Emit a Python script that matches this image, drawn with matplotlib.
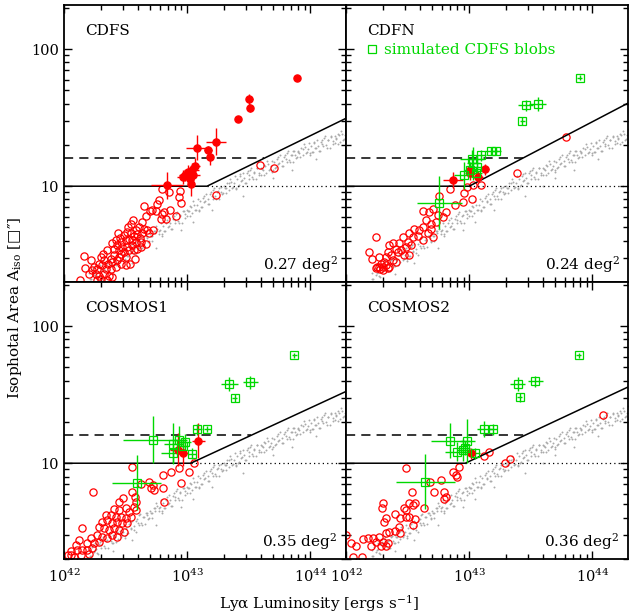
import numpy as np
import matplotlib
matplotlib.use("Agg")
import matplotlib.pyplot as plt
from matplotlib.lines import Line2D

plt.rcParams['font.family'] = ['DejaVu Serif', 'DejaVu Sans']
plt.rcParams['mathtext.fontset'] = 'dejavuserif'

RED = '#ff0000'
GREEN = '#00d800'
GRAY = '#aaaaaa'

panel_names = ['CDFS', 'CDFN', 'COSMOS1', 'COSMOS2']
panel_areas = ['0.27', '0.24', '0.35', '0.36']

# selection lines: kink luminosity and area of the diagonal at L = 2e44
kink_L = [1.45e43, 1.0e43, 1.07e43, 0.93e43]
end_A = [31.3, 40.4, 33.4, 36.0]
A_min = 10.0
A_dash = 16.0

# gray points (simulated point sources), log L and log A
gray_logL = [
    42.207, 42.221, 42.233, 42.249, 42.262, 42.278, 42.293,
    42.304, 42.318, 42.337, 42.346, 42.368, 42.381, 42.397,
    42.407, 42.421, 42.433, 42.449, 42.462, 42.478, 42.493,
    42.504, 42.518, 42.537, 42.546, 42.568, 42.581, 42.597,
    42.607, 42.621, 42.633, 42.649, 42.662, 42.678, 42.693,
    42.704, 42.718, 42.737, 42.746, 42.768, 42.781, 42.797,
    42.807, 42.821, 42.833, 42.849, 42.862, 42.878, 42.893,
    42.904, 42.918, 42.937, 42.946, 42.968, 42.981, 42.997,
    43.007, 43.021, 43.033, 43.049, 43.062, 43.078, 43.093,
    43.104, 43.118, 43.137, 43.146, 43.168, 43.181, 43.197,
    43.207, 43.221, 43.233, 43.249, 43.262, 43.278, 43.293,
    43.304, 43.318, 43.337, 43.346, 43.368, 43.381, 43.397,
    43.407, 43.421, 43.433, 43.449, 43.462, 43.478, 43.493,
    43.504, 43.518, 43.537, 43.546, 43.568, 43.581, 43.597,
    43.607, 43.621, 43.633, 43.649, 43.662, 43.678, 43.693,
    43.704, 43.718, 43.737, 43.746, 43.768, 43.781, 43.797,
    43.807, 43.821, 43.833, 43.849, 43.862, 43.878, 43.893,
    43.904, 43.918, 43.937, 43.946, 43.968, 43.981, 43.997,
    44.007, 44.021, 44.033, 44.049, 44.062, 44.078, 44.093,
    44.104, 44.118, 44.137, 44.146, 44.168, 44.181, 44.197,
    44.207, 44.221, 44.233, 44.249, 44.262, 44.278, 44.293,
    42.212, 42.227, 42.241, 42.256, 42.271, 42.286, 42.299,
    42.312, 42.327, 42.341, 42.356, 42.371, 42.386, 42.399,
    42.412, 42.427, 42.441, 42.456, 42.471, 42.486, 42.499,
    42.512, 42.527, 42.541, 42.556, 42.571, 42.586, 42.599,
    42.612, 42.627, 42.641, 42.656, 42.671, 42.686, 42.699,
    42.712, 42.727, 42.741, 42.756, 42.771, 42.786, 42.799,
    42.812, 42.827, 42.841, 42.856, 42.871, 42.886, 42.899,
    42.912, 42.927, 42.941, 42.956, 42.971, 42.986, 42.999,
    43.012, 43.027, 43.041, 43.056, 43.071, 43.086, 43.099,
    43.112, 43.127, 43.141, 43.156, 43.171, 43.186, 43.199,
    43.212, 43.227, 43.241, 43.256, 43.271, 43.286, 43.299,
    43.312, 43.327, 43.341, 43.356, 43.371, 43.386, 43.399,
    43.412, 43.427, 43.441, 43.456, 43.471, 43.486, 43.499,
    43.512, 43.527, 43.541, 43.556, 43.571, 43.586, 43.599,
    43.612, 43.627, 43.641, 43.656, 43.671, 43.686, 43.699,
    43.712, 43.727, 43.741, 43.756, 43.771, 43.786, 43.799,
    43.812, 43.827, 43.841, 43.856, 43.871, 43.886, 43.899,
    43.912, 43.927, 43.941, 43.956, 43.971, 43.986, 43.999,
    44.012, 44.027, 44.041, 44.056, 44.071, 44.086, 44.099,
    44.112, 44.127, 44.141, 44.156, 44.171, 44.186, 44.199,
    44.212, 44.227, 44.241, 44.256, 44.271, 44.286, 44.299,
    42.75, 42.95, 43.20, 43.45, 43.60, 43.85, 42.55, 43.05, 43.70, 44.05, 42.40,
]
gray_logA = [
    0.365, 0.325, 0.405, 0.365, 0.375, 0.335, 0.425,
    0.380, 0.460, 0.380, 0.440, 0.460, 0.430, 0.420,
    0.465, 0.425, 0.495, 0.535, 0.465, 0.495, 0.455,
    0.530, 0.490, 0.570, 0.530, 0.540, 0.500, 0.590,
    0.550, 0.630, 0.550, 0.610, 0.640, 0.620, 0.600,
    0.640, 0.600, 0.670, 0.710, 0.670, 0.680, 0.640,
    0.710, 0.670, 0.750, 0.710, 0.730, 0.690, 0.780,
    0.730, 0.810, 0.730, 0.790, 0.820, 0.800, 0.780,
    0.820, 0.780, 0.850, 0.890, 0.830, 0.860, 0.820,
    0.890, 0.850, 0.930, 0.890, 0.910, 0.870, 0.960,
    0.910, 0.990, 0.910, 0.965, 0.990, 0.960, 0.950,
    0.990, 0.950, 1.020, 1.055, 0.990, 1.020, 0.980,
    1.050, 1.010, 1.090, 1.045, 1.060, 1.020, 1.110,
    1.055, 1.135, 1.050, 1.105, 1.130, 1.100, 1.085,
    1.125, 1.085, 1.150, 1.185, 1.120, 1.150, 1.105,
    1.180, 1.140, 1.215, 1.170, 1.185, 1.145, 1.230,
    1.180, 1.260, 1.175, 1.230, 1.255, 1.225, 1.210,
    1.250, 1.210, 1.275, 1.310, 1.245, 1.275, 1.230,
    1.295, 1.250, 1.325, 1.280, 1.295, 1.255, 1.340,
    1.290, 1.365, 1.280, 1.335, 1.360, 1.330, 1.315,
    1.350, 1.305, 1.370, 1.405, 1.340, 1.370, 1.325,
    0.325, 0.390, 0.355, 0.415, 0.345, 0.410, 0.400,
    0.450, 0.395, 0.430, 0.380, 0.470, 0.415, 0.475,
    0.465, 0.500, 0.445, 0.505, 0.475, 0.550, 0.470,
    0.490, 0.555, 0.520, 0.580, 0.510, 0.575, 0.565,
    0.620, 0.565, 0.605, 0.555, 0.640, 0.590, 0.650,
    0.640, 0.675, 0.655, 0.685, 0.650, 0.730, 0.650,
    0.670, 0.735, 0.705, 0.765, 0.690, 0.760, 0.750,
    0.800, 0.745, 0.785, 0.735, 0.820, 0.770, 0.830,
    0.820, 0.855, 0.805, 0.865, 0.830, 0.910, 0.830,
    0.850, 0.915, 0.885, 0.945, 0.870, 0.940, 0.930,
    0.975, 0.925, 0.960, 0.910, 0.995, 0.945, 1.000,
    0.985, 1.025, 0.970, 1.030, 0.995, 1.075, 0.990,
    1.005, 1.075, 1.040, 1.100, 1.025, 1.095, 1.080,
    1.120, 1.065, 1.100, 1.050, 1.135, 1.080, 1.135,
    1.120, 1.155, 1.100, 1.160, 1.125, 1.185, 1.115,
    1.135, 1.200, 1.165, 1.225, 1.150, 1.215, 1.200,
    1.245, 1.190, 1.225, 1.175, 1.260, 1.205, 1.260,
    1.245, 1.280, 1.225, 1.285, 1.250, 1.315, 1.240,
    1.250, 1.315, 1.280, 1.335, 1.260, 1.325, 1.310,
    1.355, 1.300, 1.335, 1.280, 1.365, 1.310, 1.365,
    1.345, 1.380, 1.325, 1.380, 1.345, 1.415, 1.335,
    0.550, 0.680, 0.830, 0.930, 1.000, 1.120, 0.440, 0.740, 1.060, 1.200, 0.360,
]

# ---- CDFS ----
cdfs_open_logL = [
    42.794, 42.854, 42.943, 42.935, 42.949, 42.772, 42.759, 42.718, 42.699, 42.745,
    42.813, 42.862, 42.799, 42.786, 42.827, 42.908, 42.650, 42.664, 42.631, 42.610,
    42.564, 42.542, 42.520, 42.583, 42.650, 42.678, 42.726, 42.691, 42.637, 42.596,
    42.569, 42.542, 42.509, 42.488, 42.455, 42.439, 42.420, 42.466, 42.501, 42.528,
    42.556, 42.583, 42.618, 42.623, 42.556, 42.515, 42.474, 42.434, 42.393, 42.407,
    42.447, 42.488, 42.528, 42.501, 42.447, 42.407, 42.379, 42.347, 42.320, 42.298,
    42.325, 42.360, 42.393, 42.434, 42.466, 42.501, 42.420, 42.379, 42.339, 42.312,
    42.285, 42.271, 42.244, 42.230, 42.257, 42.285, 42.325, 42.366, 42.393, 42.298,
    42.271, 42.163, 42.217, 42.168, 42.130, 42.203, 42.352, 42.461, 42.596, 42.629,
    42.664, 42.569, 42.537, 42.577, 43.590, 43.707, 43.236,
]
cdfs_open_logA = [
    0.976, 0.959, 0.966, 0.922, 0.878, 0.903, 0.873, 0.825, 0.820, 0.820,
    0.810, 0.825, 0.800, 0.764, 0.764, 0.781, 0.854, 0.783, 0.742, 0.703,
    0.752, 0.723, 0.703, 0.679, 0.691, 0.679, 0.684, 0.655, 0.655, 0.650,
    0.635, 0.659, 0.667, 0.642, 0.625, 0.655, 0.611, 0.594, 0.606, 0.618,
    0.606, 0.594, 0.625, 0.594, 0.569, 0.557, 0.557, 0.569, 0.582, 0.545,
    0.533, 0.521, 0.533, 0.484, 0.484, 0.496, 0.472, 0.533, 0.509, 0.484,
    0.460, 0.436, 0.448, 0.460, 0.436, 0.423, 0.411, 0.399, 0.399, 0.423,
    0.436, 0.399, 0.411, 0.387, 0.363, 0.343, 0.358, 0.343, 0.338, 0.326,
    0.314, 0.489, 0.465, 0.406, 0.319, 0.363, 0.314, 0.509, 0.545, 0.557,
    0.577, 0.533, 0.436, 0.472, 1.153, 1.134, 0.939,
]
cdfs_blob_logL = [43.892, 43.504, 43.512, 43.417, 43.236, 43.084, 43.168, 43.187, 42.984,
                  43.011, 43.038, 43.065, 43.051, 42.970, 43.024, 43.032, 42.840]
cdfs_blob_logA = [1.786, 1.633, 1.572, 1.487, 1.326, 1.282, 1.263, 1.214, 1.080,
                  1.105, 1.117, 1.146, 1.080, 1.068, 1.056, 1.015, 1.007]
cdfs_blob_xerr = [0.01, 0.03, 0.01, 0.02, 0.08, 0.09, 0.03, 0.02, 0.05,
                  0.04, 0.06, 0.04, 0.05, 0.05, 0.03, 0.02, 0.13]
cdfs_blob_yerr = [0.01, 0.04, 0.03, 0.02, 0.10, 0.09, 0.03, 0.06, 0.04,
                  0.05, 0.05, 0.06, 0.04, 0.05, 0.04, 0.09, 0.10]

# ---- CDFN ----
cdfn_open_logL = [
    42.753, 42.846, 42.881, 42.949, 42.813, 42.786, 42.745, 42.705, 42.672, 42.629,
    42.732, 42.691, 42.650, 42.623, 42.591, 42.556, 42.583, 42.623, 42.664, 42.691,
    42.705, 42.542, 42.515, 42.501, 42.528, 42.488, 42.461, 42.434, 42.407, 42.379,
    42.352, 42.339, 42.366, 42.420, 42.447, 42.474, 42.509, 42.379, 42.407, 42.325,
    42.312, 42.285, 42.271, 42.266, 42.298, 42.325, 42.352, 42.190, 42.211, 42.244,
    42.249, 42.240, 42.300, 42.340, 42.280,
    43.789, 43.388, 42.980, 43.030, 43.100, 43.020, 42.959,
]
cdfn_open_logA = [
    0.927, 0.976, 0.861, 0.886, 0.813, 0.776, 0.788, 0.837, 0.813, 0.820,
    0.740, 0.727, 0.752, 0.703, 0.679, 0.691, 0.635, 0.606, 0.655, 0.691,
    0.630, 0.630, 0.655, 0.594, 0.569, 0.557, 0.630, 0.582, 0.545, 0.582,
    0.569, 0.521, 0.496, 0.521, 0.533, 0.496, 0.496, 0.460, 0.448, 0.484,
    0.448, 0.436, 0.484, 0.411, 0.411, 0.423, 0.411, 0.521, 0.472, 0.630,
    0.411, 0.400, 0.385, 0.400, 0.395,
    1.360, 1.093, 0.995, 1.007, 1.007, 0.905, 0.951,
]
cdfn_blob_logL = [42.867, 43.003, 43.008, 43.070, 43.125]
cdfn_blob_logA = [1.044, 1.117, 1.097, 1.068, 1.122]
cdfn_blob_xerr = [0.08, 0.03, 0.04, 0.04, 0.04]
cdfn_blob_yerr = [0.06, 0.05, 0.05, 0.04, 0.04]
cdfn_sim_logL = [43.897, 43.459, 43.555, 43.431, 43.220, 43.180, 43.095, 43.022, 43.035,
                 43.062, 43.008, 42.954, 43.057, 42.759]
cdfn_sim_logA = [1.793, 1.591, 1.599, 1.477, 1.258, 1.258, 1.226, 1.202, 1.166,
                 1.141, 1.117, 1.080, 1.093, 0.881]
cdfn_sim_xerr = [0.02, 0.06, 0.07, 0.02, 0.04, 0.05, 0.04, 0.10, 0.05, 0.06, 0.05, 0.08, 0.05, 0.18]
cdfn_sim_yerr = [0.02, 0.04, 0.05, 0.03, 0.03, 0.03, 0.04, 0.06, 0.12, 0.08, 0.06, 0.10, 0.05, 0.19]

# ---- COSMOS1 ----
cos1_open_logL = [
    42.556, 42.808, 42.867, 43.016, 43.057, 42.935, 42.949, 42.691, 42.726, 42.710,
    42.732, 42.629, 42.556, 42.238, 42.808, 42.813, 42.575, 42.583, 42.569, 42.583,
    42.482, 42.447, 42.407, 42.447, 42.501, 42.528,
    42.339, 42.379, 42.420, 42.461, 42.501, 42.542, 42.352, 42.312, 42.393, 42.434,
    42.474, 42.515, 42.285, 42.325, 42.366, 42.407, 42.447, 42.488, 42.271, 42.312,
    42.352, 42.393, 42.434, 42.149, 42.217, 42.190, 42.244, 42.285, 42.122, 42.095,
    42.108, 42.149, 42.190, 42.230, 42.054, 42.136, 42.203, 42.081, 42.030, 42.060,
]
cos1_open_logA = [
    0.976, 0.915, 0.939, 0.939, 1.000, 0.963, 0.859, 0.866, 0.841, 0.817,
    0.805, 0.849, 0.793, 0.793, 0.817, 0.720, 0.756, 0.720, 0.683, 0.659,
    0.744, 0.720, 0.663, 0.659, 0.671, 0.646,
    0.622, 0.622, 0.610, 0.610, 0.598, 0.610, 0.585, 0.573, 0.561, 0.573,
    0.561, 0.561, 0.537, 0.524, 0.512, 0.524, 0.512, 0.500, 0.476, 0.463,
    0.451, 0.476, 0.463, 0.524, 0.451, 0.415, 0.415, 0.427, 0.439, 0.402,
    0.366, 0.366, 0.366, 0.378, 0.329, 0.329, 0.337, 0.317, 0.330, 0.360,
]
cos1_blob_logL = [42.924, 42.965, 43.092]
cos1_blob_logA = [1.097, 1.078, 1.165]
cos1_blob_xerr = [0.06, 0.04, 0.05]
cos1_blob_yerr = [0.12, 0.10, 0.13]
cos1_sim_logL = [43.870, 43.344, 43.512, 43.385, 43.165, 43.084, 42.721, 42.889, 42.937,
                 42.984, 42.884, 43.038, 42.965, 42.591]
cos1_sim_logA = [1.786, 1.580, 1.590, 1.476, 1.249, 1.249, 1.171, 1.141, 1.171,
                 1.154, 1.078, 1.068, 1.127, 0.858]
cos1_sim_xerr = [0.02, 0.07, 0.06, 0.02, 0.03, 0.04, 0.24, 0.08, 0.06, 0.05, 0.10, 0.03, 0.04, 0.20]
cos1_sim_yerr = [0.02, 0.05, 0.05, 0.03, 0.02, 0.04, 0.17, 0.15, 0.10, 0.06, 0.08, 0.04, 0.05, 0.20]

# ---- COSMOS2 ----
cos2_open_logL = [
    42.488, 42.537, 42.678, 42.772, 42.718, 42.799, 42.808, 42.799, 42.894, 42.902,
    42.921, 42.867, 42.304, 42.293, 42.515, 42.474, 42.542, 42.561, 42.488, 42.637,
    42.401, 42.439, 42.488, 42.509, 42.564, 42.325, 42.312, 42.542, 42.434, 42.352,
    42.325, 42.401, 42.439, 42.271, 42.222, 42.176, 42.136, 42.244, 42.298, 42.339,
    42.203, 42.285, 42.325, 42.081, 42.041, 42.000, 42.054, 42.130,
    44.087, 43.333, 43.293, 43.157, 43.122,
]
cos2_open_logA = [
    0.963, 0.793, 0.866, 0.878, 0.793, 0.793, 0.756, 0.737, 0.915, 0.902,
    0.971, 0.939, 0.712, 0.671, 0.707, 0.671, 0.695, 0.707, 0.659, 0.671,
    0.629, 0.598, 0.605, 0.610, 0.590, 0.598, 0.573, 0.549, 0.537, 0.500,
    0.488, 0.507, 0.488, 0.463, 0.451, 0.451, 0.444, 0.427, 0.427, 0.415,
    0.395, 0.395, 0.395, 0.395, 0.420, 0.476, 0.317, 0.317,
    1.354, 1.029, 1.000, 1.085, 1.053,
]
cos2_blob_logL = [43.016]
cos2_blob_logA = [1.073]
cos2_blob_xerr = [0.03]
cos2_blob_yerr = [0.04]
cos2_sim_logL = [43.889, 43.393, 43.537, 43.409, 43.192, 43.124, 42.846, 42.986, 42.900,
                 42.949, 42.967, 43.049, 42.642]
cos2_sim_logA = [1.786, 1.580, 1.597, 1.480, 1.249, 1.249, 1.165, 1.165, 1.085,
                 1.097, 1.110, 1.073, 0.865]
cos2_sim_xerr = [0.02, 0.06, 0.06, 0.02, 0.03, 0.06, 0.16, 0.06, 0.10, 0.05, 0.04, 0.04, 0.24]
cos2_sim_yerr = [0.02, 0.05, 0.04, 0.03, 0.04, 0.06, 0.13, 0.16, 0.07, 0.08, 0.05, 0.04, 0.20]

open_sets = [(cdfs_open_logL, cdfs_open_logA), (cdfn_open_logL, cdfn_open_logA),
             (cos1_open_logL, cos1_open_logA), (cos2_open_logL, cos2_open_logA)]
blob_sets = [(cdfs_blob_logL, cdfs_blob_logA, cdfs_blob_xerr, cdfs_blob_yerr),
             (cdfn_blob_logL, cdfn_blob_logA, cdfn_blob_xerr, cdfn_blob_yerr),
             (cos1_blob_logL, cos1_blob_logA, cos1_blob_xerr, cos1_blob_yerr),
             (cos2_blob_logL, cos2_blob_logA, cos2_blob_xerr, cos2_blob_yerr)]
sim_sets = [None,
            (cdfn_sim_logL, cdfn_sim_logA, cdfn_sim_xerr, cdfn_sim_yerr),
            (cos1_sim_logL, cos1_sim_logA, cos1_sim_xerr, cos1_sim_yerr),
            (cos2_sim_logL, cos2_sim_logA, cos2_sim_xerr, cos2_sim_yerr)]

XMIN, XMAX = 1e42, 1.95e44
YMIN, YMAX = 2.0, 210.0


def log_errors(logv, err):
    v = 10 ** np.array(logv)
    e = np.array(err)
    return v, np.vstack([v - v / 10 ** e, v * 10 ** e - v])


def errpoints(ax, data, color, marker, filled):
    x, xe = log_errors(data[0], data[2])
    y, ye = log_errors(data[1], data[3])
    ax.errorbar(x, y, xerr=xe, yerr=ye, fmt='none', ecolor=color, elinewidth=1.0,
                capsize=0, zorder=4)
    ax.plot(x, y, marker, ms=5.2, mec=color, mew=0.9,
            mfc=color if filled else 'none', ls='none', zorder=5)


fig = plt.figure(figsize=(6.29, 6.16), dpi=100)
W, H = 0.4484, 0.4497
positions = [(0.1017, 0.5422), (0.5501, 0.5422), (0.1017, 0.0925), (0.5501, 0.0925)]

for i, (x0, y0) in enumerate(positions):
    ax = fig.add_axes([x0, y0, W, H])
    ax.set_xscale('log')
    ax.set_yscale('log')
    ax.set_xlim(XMIN, XMAX)
    ax.set_ylim(YMIN, YMAX)

    ax.plot(10 ** np.array(gray_logL), 10 ** np.array(gray_logA), 'o', ms=1.4,
            color=GRAY, mec='none', zorder=1)

    # selection lines
    kL = kink_L[i]
    slope = np.log10(end_A[i] / A_min) / np.log10(XMAX / kL)
    L_dash = kL * (A_dash / A_min) ** (1 / slope)
    ax.plot([XMIN, kL, XMAX], [A_min, A_min, end_A[i]], color='k', lw=1.1, zorder=3)
    ax.plot([kL, XMAX], [A_min, A_min], color='k', lw=0.9, ls=(0, (1, 2.5)), zorder=3)
    ax.plot([XMIN, L_dash], [A_dash, A_dash], color='k', lw=1.1, ls=(0, (6, 4)), zorder=3)

    ol, oa = open_sets[i]
    ax.plot(10 ** np.array(ol), 10 ** np.array(oa), 'o', ms=5.2, mfc='none', mec=RED,
            mew=0.9, ls='none', zorder=2)
    errpoints(ax, blob_sets[i], RED, 'o', True)
    if sim_sets[i] is not None:
        errpoints(ax, sim_sets[i], GREEN, 's', False)

    ax.tick_params(which='both', direction='in', top=True, right=True, width=1.0,
                   labelsize=10.5)
    ax.tick_params(which='major', length=6)
    ax.tick_params(which='minor', length=3.5)
    ax.set_yticks([10, 100])
    ax.set_yticklabels(['10', '100'])
    ax.set_xticks([1e42, 1e43, 1e44])
    ax.set_xticklabels([r'10$^{42}$', r'10$^{43}$', r'10$^{44}$'])
    ax.yaxis.set_minor_formatter(matplotlib.ticker.NullFormatter())
    ax.xaxis.set_minor_formatter(matplotlib.ticker.NullFormatter())
    if i % 2 == 1:
        ax.tick_params(labelleft=False)
    if i < 2:
        ax.tick_params(labelbottom=False)
    ax.tick_params(axis='x', pad=6)
    for s in ax.spines.values():
        s.set_linewidth(1.3)

    ax.text(0.075, 0.89, panel_names[i], transform=ax.transAxes, fontsize=11,
            ha='left', va='baseline')
    ax.text(0.97, 0.045, panel_areas[i] + r' deg$^2$', transform=ax.transAxes,
            fontsize=11, ha='right', va='baseline')

    if i == 1:
        h = Line2D([], [], marker='s', ms=5.2, mfc='none', mec=GREEN, mew=0.9, ls='none')
        leg = ax.legend([h], ['simulated CDFS blobs'], loc='upper left',
                        bbox_to_anchor=(0.075, 0.862), frameon=False, fontsize=11,
                        handlelength=0.6, handletextpad=0.5, borderpad=0,
                        borderaxespad=0)
        for t in leg.get_texts():
            t.set_color(GREEN)

fig.text(0.024, 0.50, "Isophotal Area A$_{\\rm iso}$ [\u25a1\u2033]", rotation=90,
         ha='center', va='center', fontsize=11)
fig.text(0.507, 0.012, "Ly\u03b1 Luminosity [ergs s$^{-1}$]", ha='center',
         va='baseline', fontsize=11)

fig.savefig('out.png', dpi=100)
